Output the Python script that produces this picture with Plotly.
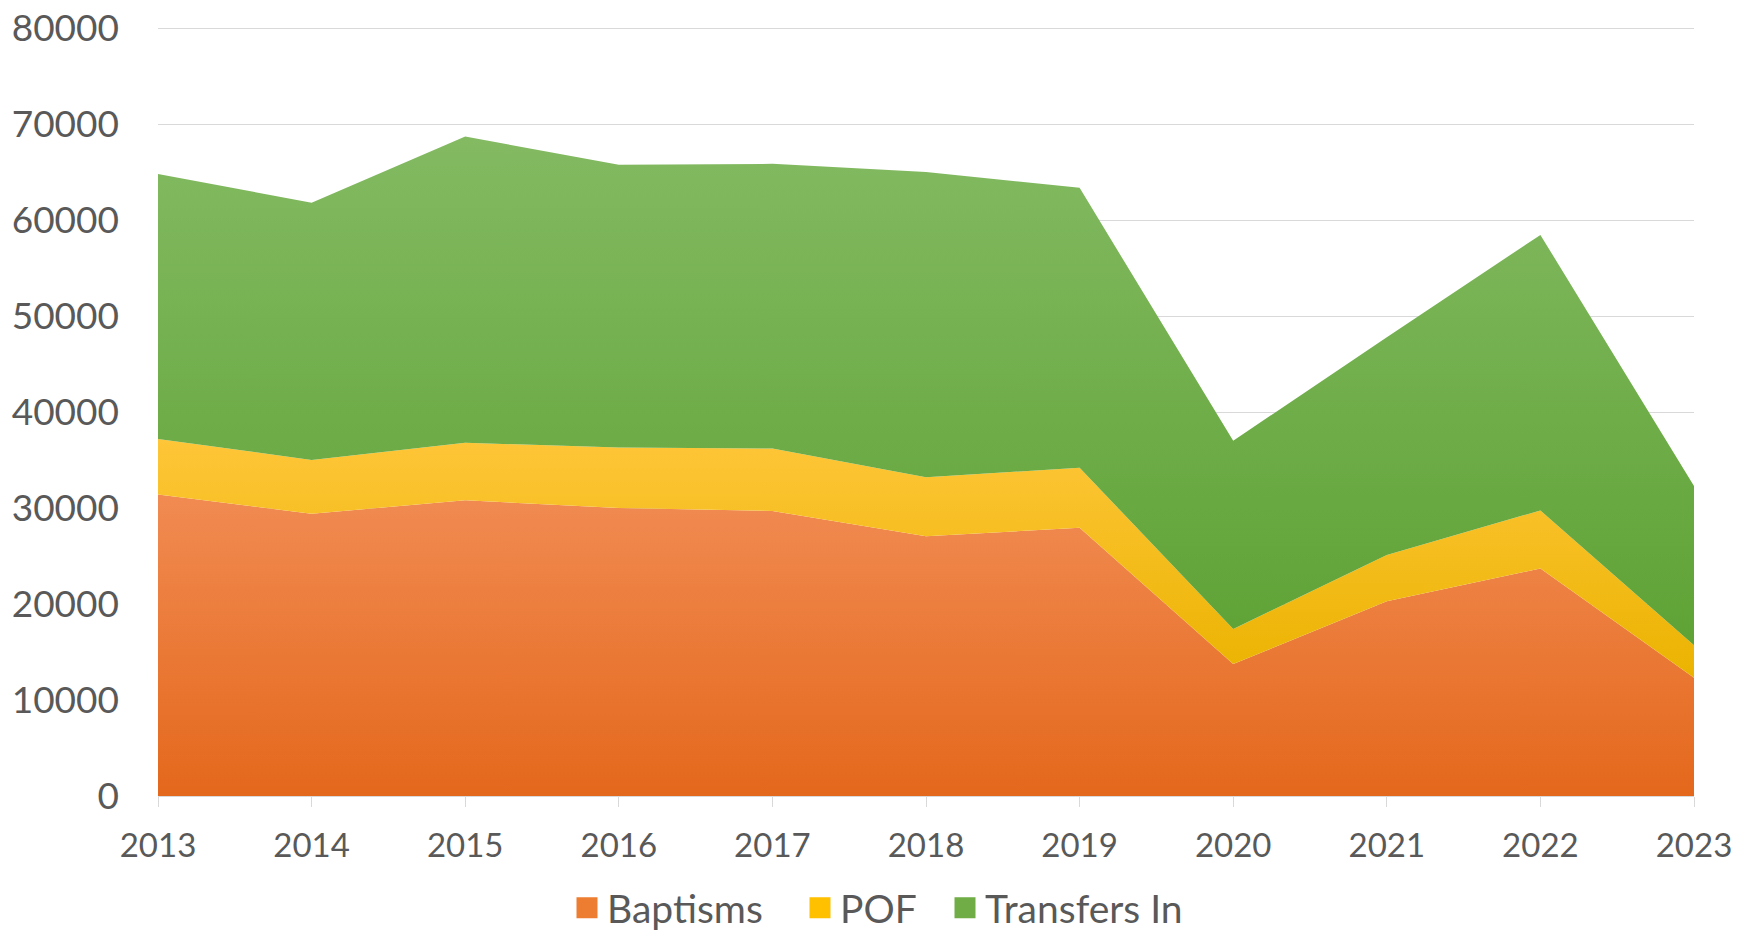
import plotly.graph_objects as go

years = [2013, 2014, 2015, 2016, 2017, 2018, 2019, 2020, 2021, 2022, 2023]
baptisms = [31400, 29400, 30800, 30000, 29700, 27050, 27950, 13750, 20300, 23700, 12330]
pof = [5800, 5600, 6000, 6300, 6500, 6150, 6250, 3650, 4800, 6050, 3370]
transfers = [27600, 26800, 31900, 29450, 29650, 31800, 29150, 19600, 22700, 28700, 16600]

series_names = ["Baptisms", "POF", "Transfers In"]
legend_colors = ["#ED7D31", "#FFC000", "#70AD47"]
gradients = [
    [[0, "#E4681C"], [1, "#F18B52"]],
    [[0, "#EBB300"], [1, "#FEC638"]],
    [[0, "#5EA234"], [1, "#83BA62"]],
]
grad_ranges = [(0, 31400), (12300, 37200), (15000, 68700)]

fig = go.Figure()
for name, vals, grad, (g0, g1) in zip(series_names, [baptisms, pof, transfers], gradients, grad_ranges):
    fig.add_trace(go.Scatter(
        x=years, y=vals, name=name, mode="lines", stackgroup="one",
        line=dict(width=0),
        fillgradient=dict(type="vertical", colorscale=grad, start=g0, stop=g1),
        showlegend=False, hoverinfo="x+y+name",
    ))

legend_ids = ["legend", "legend2", "legend3"]
legend_x = [567, 800, 945]  # left edge of each legend box, px from page left
for name, col, lid in zip(series_names, legend_colors, legend_ids):
    fig.add_trace(go.Scatter(
        x=[None], y=[None], mode="markers", name=name, legend=lid,
        marker=dict(symbol="square", size=16, color=col, line=dict(color=col, width=5)),
    ))

font_family = "Lato"
W, H = 1742, 932
legend_cfg = {}
for lid, lx in zip(legend_ids, legend_x):
    legend_cfg[lid] = dict(
        orientation="h", xref="container", x=lx / W, xanchor="left",
        yref="container", y=(H - 908) / H, yanchor="middle",
        font=dict(family=font_family, size=39, color="#595959"),
        itemsizing="trace", bgcolor="rgba(0,0,0,0)", borderwidth=0,
    )

fig.update_layout(
    width=W, height=H,
    margin=dict(l=158, r=48, t=24, b=136, autoexpand=False),
    paper_bgcolor="white", plot_bgcolor="white",
    font=dict(family=font_family, size=36, color="#595959"),
    showlegend=True,
    xaxis=dict(
        range=[2013, 2023], tickvals=years, ticktext=[str(y) for y in years],
        showgrid=False, zeroline=False, showline=True, linecolor="#D9D9D9", linewidth=1,
        ticks="outside", ticklen=10, tickcolor="#D9D9D9", tickwidth=1,
        ticklabelstandoff=10, automargin=False,
        tickfont=dict(family=font_family, size=33, color="#595959"),
    ),
    yaxis=dict(
        range=[0, 80420], tickvals=[0, 10000, 20000, 30000, 40000, 50000, 60000, 70000, 80000],
        tickformat="d",
        showgrid=True, gridcolor="#D9D9D9", gridwidth=1,
        zeroline=False, showline=False, ticks="",
        ticklabelstandoff=38, automargin=False,
        tickfont=dict(family=font_family, size=37, color="#595959"),
    ),
    **legend_cfg,
)

fig.write_html("out.html", config={"displayModeBar": False},
               post_script="document.body.style.margin='0';")
